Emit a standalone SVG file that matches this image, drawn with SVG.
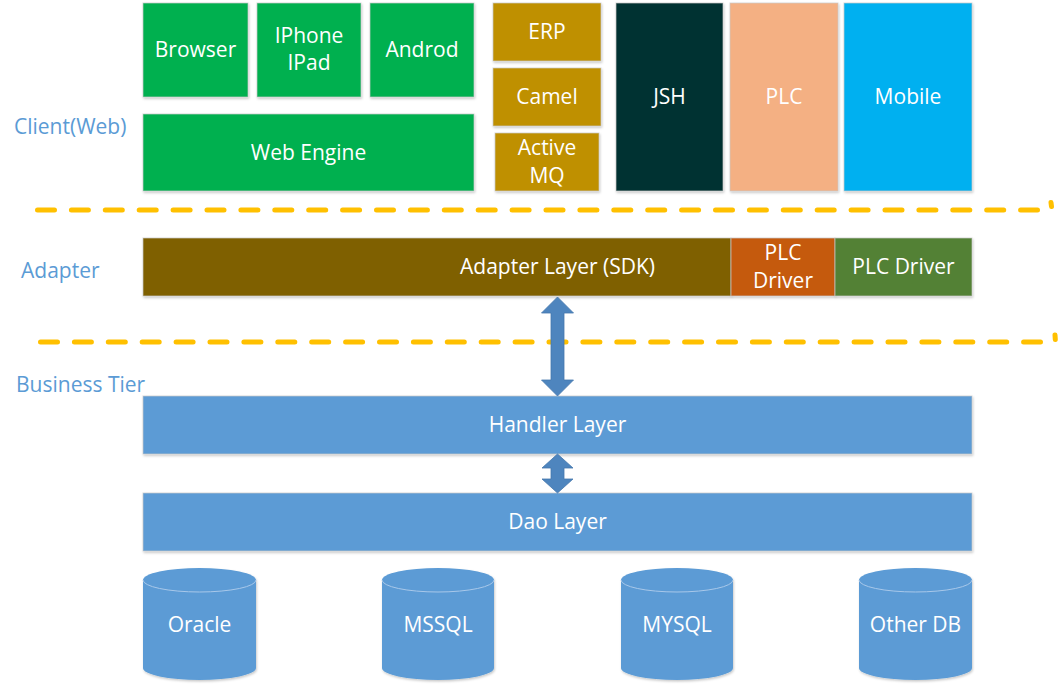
<svg xmlns="http://www.w3.org/2000/svg" width="1059" height="696" viewBox="0 0 1059 696">
<defs>
<filter id="sh" x="-5%" y="-5%" width="110%" height="120%">
<feDropShadow dx="0.8" dy="1.5" stdDeviation="1.2" flood-color="#000" flood-opacity="0.22"/>
</filter>
<style>
.b{stroke:#c9c9c9;stroke-opacity:0.7;stroke-width:1;filter:url(#sh)}
.t{font-family:"Open Sans","Noto Sans","Liberation Sans",sans-serif;font-size:21px;fill:#ffffff;text-anchor:middle}
.l{font-family:"Open Sans","Noto Sans","Liberation Sans",sans-serif;font-size:21px;fill:#5B9BD5}
.d{fill:none;stroke:#FFC000;stroke-width:5;stroke-linecap:round}
.ar{fill:#4E85BE;stroke:#4577AC;stroke-width:0.8}
.cy{fill:#5B9BD5;filter:url(#sh)}
.cyt{fill:none;stroke:#A8C8EA;stroke-width:1}
</style>
</defs>
<rect width="1059" height="696" fill="#ffffff"/>

<g id="labels">
<text class="l" x="14" y="134">Client(Web)</text>
<text class="l" x="21" y="278">Adapter</text>
<text class="l" x="16" y="392">Business Tier</text>
</g>

<g id="separators">
<path class="d" d="M37.5,210 H1037.5" stroke-dasharray="17 16.9"/>
<path class="d" d="M1051,202.5 L1051.5,206.5"/>
<path class="d" d="M40.5,342 H1040.5" stroke-dasharray="17 16.9"/>
<path class="d" d="M1055,335 L1055.3,339.5"/>
</g>

<g id="browser"><rect class="b" x="143" y="3" width="105" height="94" fill="#00B050"/><text class="t" x="195.5" y="57">Browser</text></g>
<g id="iphone"><rect class="b" x="257" y="3" width="104" height="94" fill="#00B050"/><text class="t" x="309" y="43">IPhone</text><text class="t" x="309" y="70">IPad</text></g>
<g id="android"><rect class="b" x="370" y="3" width="104" height="94" fill="#00B050"/><text class="t" x="422" y="57">Androd</text></g>
<g id="webengine"><rect class="b" x="143" y="114" width="331" height="77" fill="#00B050"/><text class="t" x="308.5" y="160">Web Engine</text></g>
<g id="erp"><rect class="b" x="493" y="3" width="108" height="58" fill="#BF9000"/><text class="t" x="547" y="39">ERP</text></g>
<g id="camel"><rect class="b" x="493" y="68" width="108" height="58" fill="#BF9000"/><text class="t" x="547" y="104">Camel</text></g>
<g id="activemq"><rect class="b" x="495" y="133" width="104" height="58" fill="#BF9000"/><text class="t" x="547" y="155">Active</text><text class="t" x="547" y="183">MQ</text></g>
<g id="jsh"><rect class="b" x="616" y="3" width="107" height="188" fill="#023030"/><text class="t" x="669.5" y="104">JSH</text></g>
<g id="plc"><rect class="b" x="730" y="3" width="108" height="188" fill="#F4B083"/><text class="t" x="784" y="104">PLC</text></g>
<g id="mobile"><rect class="b" x="844" y="3" width="128" height="188" fill="#00B0F0"/><text class="t" x="908" y="104">Mobile</text></g>

<g id="adapter"><rect class="b" x="143" y="238" width="588" height="58" fill="#7F6000"/><text class="t" x="557.5" y="274">Adapter Layer (SDK)</text></g>
<g id="plcdriver1"><rect class="b" x="731" y="238" width="104" height="58" fill="#C55A11"/><text class="t" x="783" y="260">PLC</text><text class="t" x="783" y="288">Driver</text></g>
<g id="plcdriver2"><rect class="b" x="835" y="238" width="137" height="58" fill="#538135"/><text class="t" x="903.5" y="274">PLC Driver</text></g>

<g id="handler"><rect class="b" x="143" y="396" width="829" height="58" fill="#5B9BD5"/><text class="t" x="557.5" y="432">Handler Layer</text></g>
<g id="dao"><rect class="b" x="143" y="493" width="829" height="58" fill="#5B9BD5"/><text class="t" x="557.5" y="529">Dao Layer</text></g>

<g id="connectors">
<path class="ar" d="M557.5,297 L573.5,313 L564,313 L564,380 L573.5,380 L557.5,396 L541.5,380 L551,380 L551,313 L541.5,313 Z"/>
<path class="ar" d="M557.5,454 L573,468 L564,468 L564,479 L573,479 L557.5,493 L542,479 L551,479 L551,468 L542,468 Z"/>
</g>

<g id="oracle"><path class="cy" d="M143,580 A56.5,12 0 0 1 256,580 V668 A56.5,12 0 0 1 143,668 Z"/><path class="cyt" d="M143,580 A56.5,12 0 0 0 256,580"/><text class="t" x="199.5" y="632">Oracle</text></g>
<g id="mssql"><path class="cy" d="M382,580 A56,12 0 0 1 494,580 V668 A56,12 0 0 1 382,668 Z"/><path class="cyt" d="M382,580 A56,12 0 0 0 494,580"/><text class="t" x="438" y="632">MSSQL</text></g>
<g id="mysql"><path class="cy" d="M621,580 A56,12 0 0 1 733,580 V668 A56,12 0 0 1 621,668 Z"/><path class="cyt" d="M621,580 A56,12 0 0 0 733,580"/><text class="t" x="677" y="632">MYSQL</text></g>
<g id="otherdb"><path class="cy" d="M859,580 A56.5,12 0 0 1 972,580 V668 A56.5,12 0 0 1 859,668 Z"/><path class="cyt" d="M859,580 A56.5,12 0 0 0 972,580"/><text class="t" x="915.5" y="632">Other DB</text></g>
</svg>
